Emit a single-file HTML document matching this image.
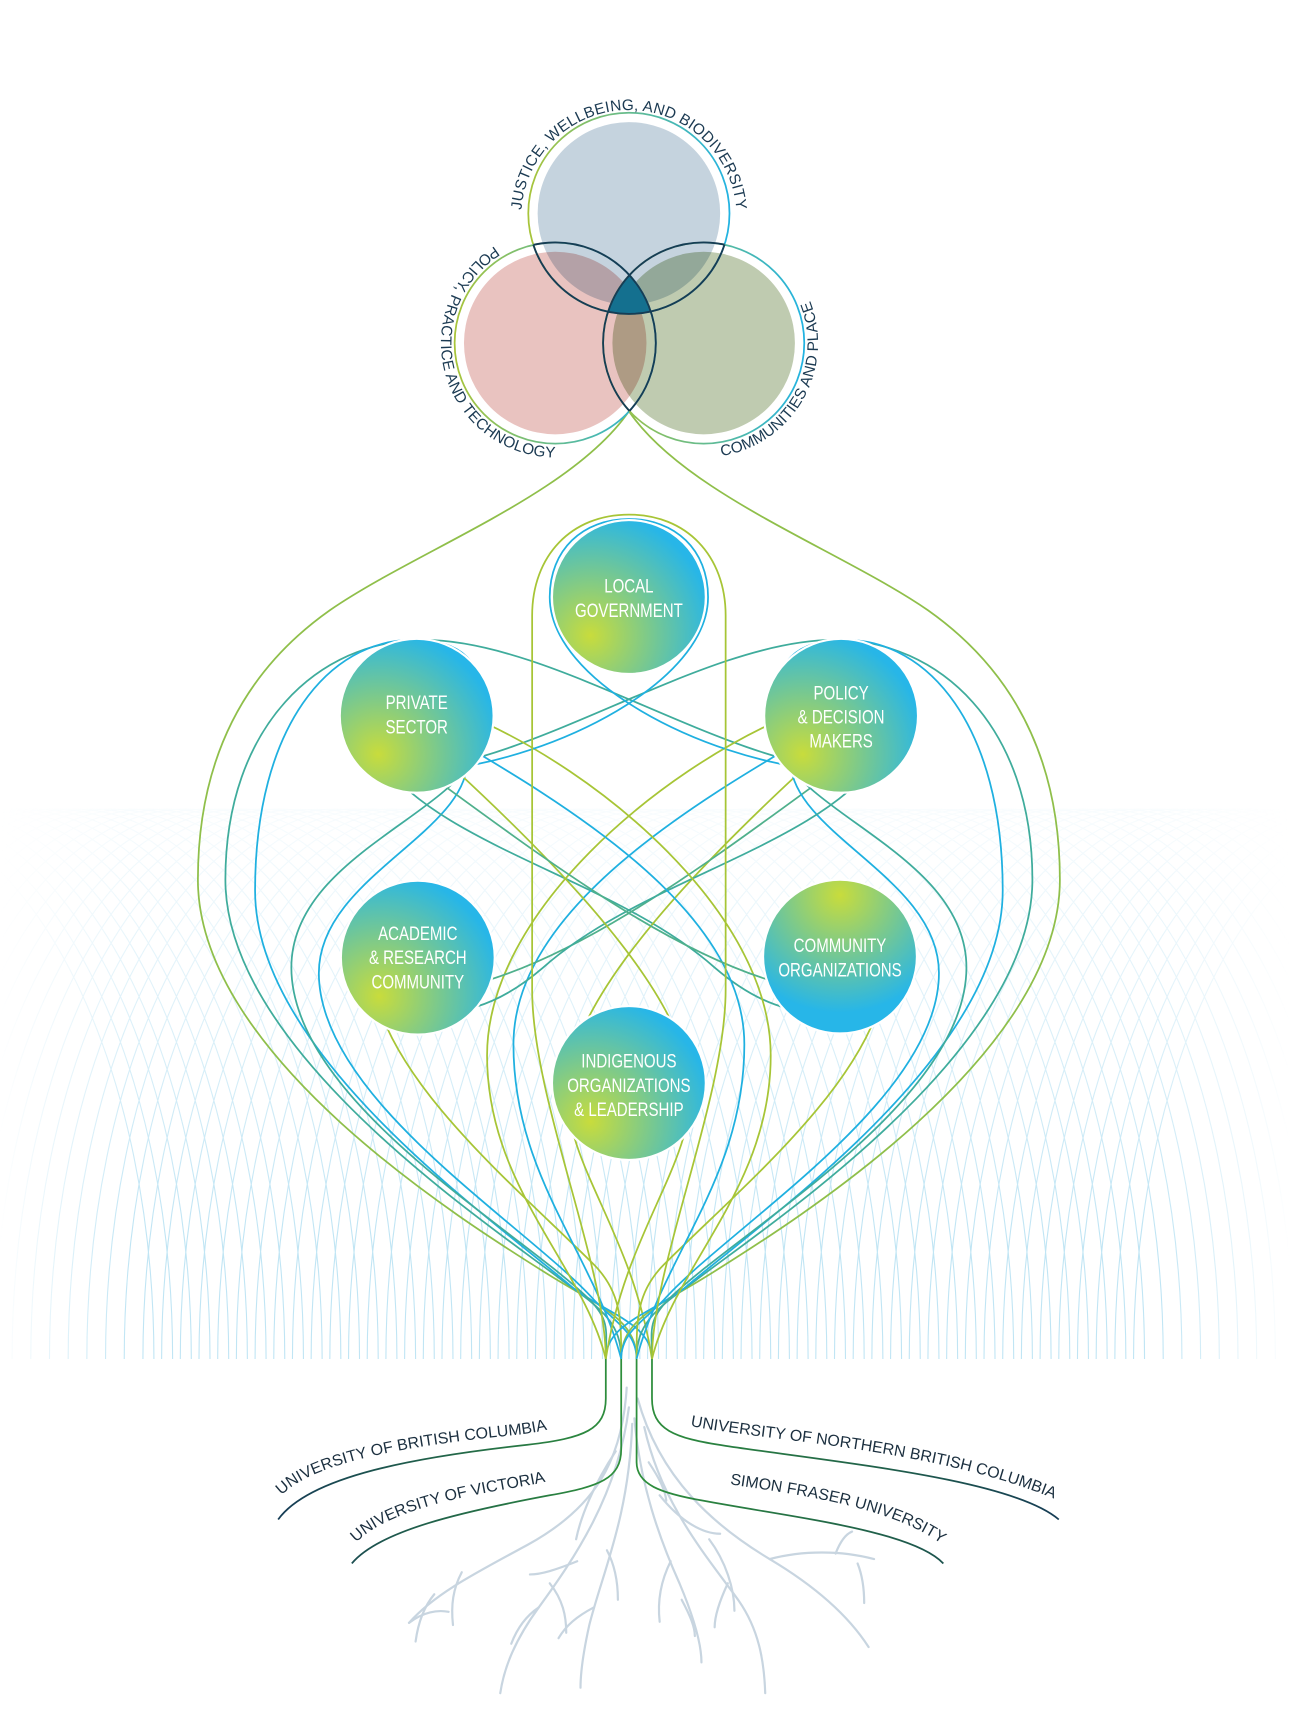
<!DOCTYPE html>
<html><head><meta charset="utf-8">
<style>
html,body{margin:0;padding:0;background:#fff;}
svg{display:block;}
.nt{font-family:"Liberation Sans",sans-serif;font-size:18px;fill:#fff;text-anchor:middle;}
.vt{font-family:"Liberation Sans",sans-serif;font-size:14px;fill:#1b3a52;letter-spacing:0.2px;}
.ut{font-family:"Liberation Sans",sans-serif;font-size:14.5px;fill:#1b2f3f;}
</style></head>
<body>
<svg id="s" width="1290" height="1725" viewBox="0 0 1173.3 1568.9" xmlns="http://www.w3.org/2000/svg">
<defs>
  <radialGradient id="ng" cx="0.25" cy="0.75" r="0.95">
    <stop offset="0" stop-color="#c8dc3c"/><stop offset="0.45" stop-color="#72c796"/><stop offset="0.85" stop-color="#27b6e8"/><stop offset="1" stop-color="#27b6e8"/>
  </radialGradient>
  <radialGradient id="ngc" cx="0.5" cy="0.1" r="0.9">
    <stop offset="0" stop-color="#c8dc3c"/><stop offset="0.45" stop-color="#72c796"/><stop offset="0.85" stop-color="#27b6e8"/><stop offset="1" stop-color="#27b6e8"/>
  </radialGradient>
  <linearGradient id="rg" x1="0" x2="1" y1="0" y2="0">
    <stop offset="0" stop-color="#a8c43a"/><stop offset="1" stop-color="#22b3e2"/>
  </linearGradient>
  <linearGradient id="ugl" gradientUnits="userSpaceOnUse" x1="560" y1="0" x2="260" y2="0">
    <stop offset="0" stop-color="#2e8f3c"/><stop offset="1" stop-color="#163d55"/>
  </linearGradient>
  <linearGradient id="ugr" gradientUnits="userSpaceOnUse" x1="585" y1="0" x2="960" y2="0">
    <stop offset="0" stop-color="#2e8f3c"/><stop offset="1" stop-color="#163d55"/>
  </linearGradient>
  <linearGradient id="hz" x1="0" x2="1" y1="0" y2="0">
    <stop offset="0" stop-color="#9fb5c4" stop-opacity="0"/><stop offset="0.2" stop-color="#5d7d92"/><stop offset="0.75" stop-color="#5d7d92"/><stop offset="1" stop-color="#9fb5c4" stop-opacity="0"/>
  </linearGradient>
  <linearGradient id="mv" gradientUnits="userSpaceOnUse" x1="0" y1="690" x2="0" y2="1120">
    <stop offset="0" stop-color="#fff" stop-opacity="0"/><stop offset="1" stop-color="#fff" stop-opacity="1"/>
  </linearGradient>
  <linearGradient id="mh" gradientUnits="userSpaceOnUse" x1="0" y1="0" x2="1173" y2="0">
    <stop offset="0" stop-color="#000"/><stop offset="0.1" stop-color="#fff"/><stop offset="0.9" stop-color="#fff"/><stop offset="1" stop-color="#000"/>
  </linearGradient>
  <mask id="mm1" maskUnits="userSpaceOnUse" x="0" y="0" width="1173" height="1569"><rect x="0" y="600" width="1173" height="640" fill="url(#mv)"/></mask>
  <mask id="mm2" maskUnits="userSpaceOnUse" x="0" y="0" width="1173" height="1569"><rect x="0" y="600" width="1173" height="640" fill="url(#mh)"/></mask>
  <clipPath id="cT"><circle cx="572" cy="194" r="91.5"/></clipPath>
  <clipPath id="cL"><circle cx="505" cy="312" r="91.5"/></clipPath>
  <clipPath id="cR"><circle cx="640" cy="312" r="91.5"/></clipPath>
  <clipPath id="cLR"><circle cx="505" cy="312" r="91.5"/><circle cx="640" cy="312" r="91.5"/></clipPath>
  <clipPath id="cTR"><circle cx="572" cy="194" r="91.5"/><circle cx="640" cy="312" r="91.5"/></clipPath>
  <clipPath id="cTL"><circle cx="572" cy="194" r="91.5"/><circle cx="505" cy="312" r="91.5"/></clipPath>
  <path id="pT" d="M475,212 A98,98 0 1 1 669,212"/>
  <path id="pL" d="M449.9,223.8 A104,104 0 0 0 505,416"/>
  <path id="pR" d="M656.3,414.7 A104,104 0 0 0 734.3,268"/>
  <path id="u1" d="M256,1360 C290,1325 400,1312 470,1305 C495,1302 508,1298 516,1293"/>
  <path id="u2" d="M324,1403 C356,1370 440,1358 480,1351 C498,1348 508,1344 514,1340"/>
  <path id="u3" d="M664,1350 C730,1360 825,1372 868,1414"/>
  <path id="u4" d="M628,1297 C700,1311 860,1318 970,1368"/>
</defs>

<!-- mesh -->
<g mask="url(#mm2)"><g mask="url(#mm1)" id="mesh" fill="none" stroke="#a6daf0" stroke-width="1" opacity="0.7"></g></g>
<line x1="230" y1="1236" x2="1030" y2="1236" stroke="url(#hz)" stroke-width="1.3"/>

<!-- roots -->
<g fill="none" stroke="#c8d5e0" stroke-width="2" stroke-linecap="round">
  <path d="M570,1262 C566,1330 540,1372 480,1405 C430,1432 395,1450 372,1476"/>
  <path d="M420,1430 C412,1445 410,1460 412,1478"/>
  <path d="M395,1450 C385,1462 380,1478 378,1493"/>
  <path d="M372,1476 C385,1466 398,1464 408,1466"/>
  <path d="M572,1280 C562,1360 522,1418 490,1462 C466,1495 458,1520 455,1540"/>
  <path d="M490,1462 C478,1470 470,1482 465,1495"/>
  <path d="M500,1440 C512,1455 515,1470 515,1485"/>
  <path d="M525,1420 C505,1428 492,1432 482,1432"/>
  <path d="M575,1295 C572,1380 548,1430 536,1478 C530,1505 528,1522 528,1535"/>
  <path d="M540,1462 C525,1470 515,1478 508,1490"/>
  <path d="M552,1410 C560,1425 562,1440 562,1455"/>
  <path d="M577,1290 C582,1350 600,1400 618,1440 C634,1478 638,1500 638,1512"/>
  <path d="M610,1420 C600,1440 598,1458 600,1475"/>
  <path d="M620,1455 C628,1470 632,1480 632,1488"/>
  <path d="M580,1272 C600,1345 650,1388 700,1418 C742,1443 772,1470 790,1498"/>
  <path d="M700,1418 C730,1410 765,1410 795,1418"/>
  <path d="M760,1413 C765,1400 770,1395 775,1393"/>
  <path d="M780,1422 C784,1432 786,1445 786,1458"/>
  <path d="M586,1298 C602,1370 645,1418 672,1456 C690,1482 695,1510 696,1540"/>
  <path d="M645,1400 C660,1420 668,1445 668,1465"/>
  <path d="M662,1440 C655,1455 650,1470 650,1480"/>
  <path d="M600,1360 C620,1385 640,1395 655,1395"/>
  <path d="M590,1330 C600,1345 605,1355 606,1365"/>
  <path d="M560,1320 C540,1350 528,1380 524,1400"/>
</g>

<!-- university curves -->
<g fill="none" stroke-width="1.6">
  <path d="M551,1236 L551,1272 C551,1300 532,1308 480,1314 C380,1325 282,1342 253,1382" stroke="url(#ugl)"/>
  <path d="M565,1236 L565,1318 C565,1345 545,1352 500,1360 C420,1375 345,1392 320,1422" stroke="url(#ugl)"/>
  <path d="M579,1236 L579,1330 C579,1350 600,1358 640,1365 C720,1380 830,1392 858,1422" stroke="url(#ugr)"/>
  <path d="M593,1236 L593,1272 C593,1300 612,1308 660,1315 C760,1330 920,1345 963,1382" stroke="url(#ugr)"/>
</g>
<text class="ut"><textPath href="#u1">UNIVERSITY OF BRITISH COLUMBIA</textPath></text>
<text class="ut"><textPath href="#u2">UNIVERSITY OF VICTORIA</textPath></text>
<text class="ut"><textPath href="#u3">SIMON FRASER UNIVERSITY</textPath></text>
<text class="ut"><textPath href="#u4">UNIVERSITY OF NORTHERN BRITISH COLUMBIA</textPath></text>

<!-- strands -->
<g id="left" fill="none" stroke-width="1.6">
  <path stroke="#8fbf4a" d="M572,374 C520,450 380,500 300,555 C215,615 180,700 180,800 C180,960 420,1110 500,1160 C545,1188 579,1200 579,1236"/>
  <path stroke="#3fac9c" d="M765,700 C650,690 500,582 385,582 C290,582 205,660 205,800 C205,955 440,1110 512,1165 C550,1192 565,1205 565,1236"/>
  <path stroke="#1fb0e0" d="M440,650 C440,600 420,582 375,582 C300,582 232,660 232,810 C232,960 450,1110 522,1172 C555,1196 593,1205 593,1236"/>
  <path stroke="#3fac9c" d="M430,690 C400,745 265,785 265,880 C265,1000 465,1115 532,1178 C556,1200 551,1210 551,1236"/>
  <path stroke="#1fb0e0" d="M425,695 C420,760 290,800 290,885 C290,1000 480,1115 540,1182 C560,1203 579,1212 579,1236"/>
  <path stroke="#a7c536" d="M340,900 C360,990 470,1080 540,1150 C565,1175 565,1200 565,1236"/>
  <path stroke="#3fac9c" d="M345,690 C400,770 560,800 650,880 C720,940 770,920 800,900"/>
  <path stroke="#a7c536" d="M720,650 C600,700 443,830 443,960 C443,1080 530,1150 551,1236"/>
  <path stroke="#1fb0e0" d="M760,655 C650,720 467,820 467,950 C467,1070 540,1140 565,1236"/>
  <path stroke="#a7c536" d="M730,700 C600,820 518,920 516,990 C514,1060 575,1120 593,1236"/>
  <path stroke="#4fb08c" d="M410,900 C520,880 650,780 760,700"/>
</g>
<use href="#left" transform="translate(1144,0) scale(-1,1)"/>
<g fill="none" stroke-width="1.6">
  <path stroke="#1fb0e0" d="M745,700 C640,690 500,620 500,543 C500,500 530,472 572,472 C614,472 644,500 644,543 C644,620 504,690 400,700"/>
  <path stroke="#a7c536" d="M593,1236 C593,1150 660,1000 660,900 C660,750 660,650 660,560 C660,505 624,468 572,468 C520,468 484,505 484,560 C484,650 484,750 484,900 C484,1000 551,1150 551,1236"/>
</g>

<!-- Venn -->
<g>
  <circle cx="572" cy="194" r="83" fill="#c5d3de" style="mix-blend-mode:multiply"/>
  <circle cx="505" cy="312" r="83" fill="#e9c3c0" style="mix-blend-mode:multiply"/>
  <circle cx="640" cy="312" r="83" fill="#bfcbb0" style="mix-blend-mode:multiply"/>
</g>
<g fill="none" stroke="url(#rg)" stroke-width="1.6">
  <circle cx="572" cy="194" r="91.5"/>
  <circle cx="505" cy="312" r="91.5"/>
  <circle cx="640" cy="312" r="91.5"/>
</g>
<g clip-path="url(#cT)"><g clip-path="url(#cL)"><rect x="400" y="100" width="350" height="350" fill="#14708f" clip-path="url(#cR)"/></g></g>
<g fill="none" stroke="#163d55" stroke-width="1.7">
  <circle cx="572" cy="194" r="91.5" clip-path="url(#cLR)"/>
  <circle cx="505" cy="312" r="91.5" clip-path="url(#cTR)"/>
  <circle cx="640" cy="312" r="91.5" clip-path="url(#cTL)"/>
</g>
<text class="vt"><textPath href="#pT" startOffset="50%" text-anchor="middle">JUSTICE, WELLBEING, AND BIODIVERSITY</textPath></text>
<text class="vt"><textPath href="#pL">POLICY, PRACTICE AND TECHNOLOGY</textPath></text>
<text class="vt"><textPath href="#pR">COMMUNITIES AND PLACE</textPath></text>

<!-- nodes -->
<g stroke="#fff" stroke-width="2">
  <circle cx="572" cy="543" r="70" fill="url(#ng)"/>
  <circle cx="379" cy="651" r="70" fill="url(#ng)"/>
  <circle cx="765" cy="651" r="70" fill="url(#ng)"/>
  <circle cx="380" cy="871" r="70" fill="url(#ng)"/>
  <circle cx="764" cy="870" r="70" fill="url(#ngc)"/>
  <circle cx="572" cy="985" r="70" fill="url(#ng)"/>
</g>
<g transform="translate(572,0) scale(0.76,1)"><text class="nt" x="0" y="539">LOCAL</text><text class="nt" x="0" y="561">GOVERNMENT</text></g>
<g transform="translate(379,0) scale(0.76,1)"><text class="nt" x="0" y="645">PRIVATE</text><text class="nt" x="0" y="667">SECTOR</text></g>
<g transform="translate(765,0) scale(0.76,1)"><text class="nt" x="0" y="636">POLICY</text><text class="nt" x="0" y="658">&amp; DECISION</text><text class="nt" x="0" y="680">MAKERS</text></g>
<g transform="translate(380,0) scale(0.76,1)"><text class="nt" x="0" y="855">ACADEMIC</text><text class="nt" x="0" y="877">&amp; RESEARCH</text><text class="nt" x="0" y="899">COMMUNITY</text></g>
<g transform="translate(764,0) scale(0.76,1)"><text class="nt" x="0" y="866">COMMUNITY</text><text class="nt" x="0" y="888">ORGANIZATIONS</text></g>
<g transform="translate(572,0) scale(0.76,1)"><text class="nt" x="0" y="971">INDIGENOUS</text><text class="nt" x="0" y="993">ORGANIZATIONS</text><text class="nt" x="0" y="1015">&amp; LEADERSHIP</text></g>

<script>
(function(){
  var g=document.getElementById('mesh'),ns='http://www.w3.org/2000/svg',d='';
  for(var cx=-120;cx<=1300;cx+=17){
    var w=260,h=500;
    d+='M'+(cx-w)+',1236 A'+w+','+h+' 0 0 1 '+(cx+w)+',1236 ';
  }
  var p=document.createElementNS(ns,'path');p.setAttribute('d',d);g.appendChild(p);
})();
</script>
</body></html>
